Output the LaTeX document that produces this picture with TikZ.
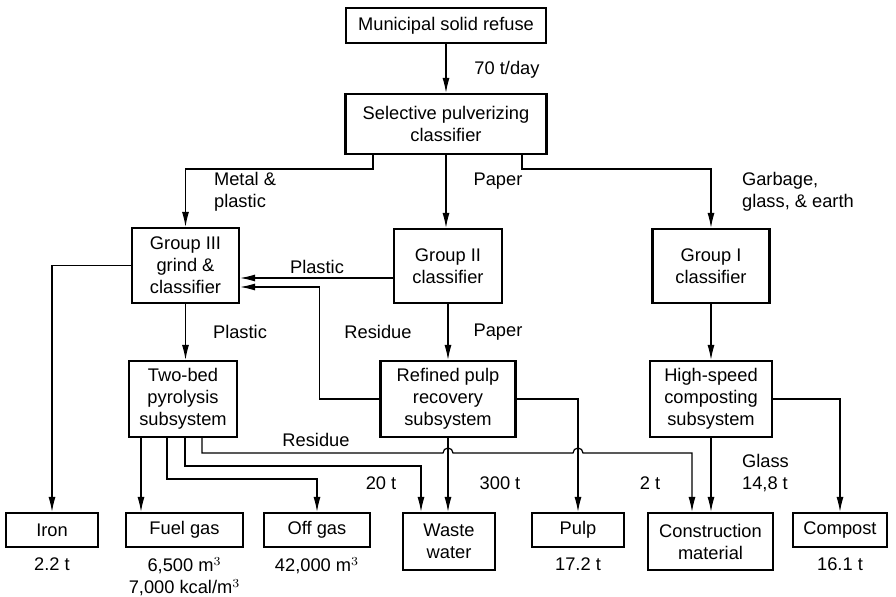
\documentclass[tikz,border=0pt]{standalone}
\usepackage{fontspec}
\setmainfont{Liberation Sans}
\usetikzlibrary{arrows.meta,positioning,calc}

\begin{document}
\begin{tikzpicture}
  %[auto,every node/.style={rectangle,draw,align=center},node distance=2cm]
  [x={(0.02cm,0)},y={(0,-0.02cm)},every node/.style={font=\fontsize{10.4}{12.5}\selectfont,align=center,inner sep=1pt}]
\tikzset{%
box/.style={rectangle,draw,line width=1.2pt,minimum height=0.68cm},
lbl/.style={draw=none},
arr/.style={-{Latex[length=3mm,width=1.4mm]},line width=0.7pt}
}
\useasboundingbox (0,0) rectangle (896,597);
  % process boxes
  \node[box,minimum width=4cm,minimum height=0.7cm] (msr) at (446,25.5) {Municipal solid refuse};
  \node[box,minimum width=4.02cm,minimum height=1.2cm] (spc) at (446,124) {Selective pulverizing\\classifier};
  \node[box,minimum width=2.14cm,minimum height=1.5cm] (g3) at (185.5,265.5) {Group III\\grind \&\\classifier};
  \node[box,minimum width=2.16cm,minimum height=1.48cm] (g2) at (448,266) {Group II\\classifier};
  \node[box,minimum width=2.34cm,minimum height=1.48cm] (g1) at (711,266) {Group I\\classifier};
  \node[box,minimum width=2.16cm,minimum height=1.52cm] (tb) at (183,399) {Two-bed\\pyrolysis\\subsystem};
  \node[box,minimum width=2.7cm,minimum height=1.52cm] (rpr) at (448,399) {Refined pulp\\recovery\\subsystem};
  \node[box,minimum width=2.44cm,minimum height=1.52cm] (hsc) at (711,399) {High-speed\\composting\\subsystem};
  % products
  \node[box,minimum width=1.84cm] (iron) at (52,530) {Iron};
  \node[box,minimum width=2.34cm] (fuel) at (184.5,530) {Fuel gas};
  \node[box,minimum width=2.12cm] (off) at (317,530) {Off gas};
  \node[box,minimum width=1.84cm,minimum height=1.14cm] (ww) at (449,541.5) {Waste\\water};
  \node[box,minimum width=1.84cm] (pulp) at (578,530) {Pulp};
  \node[box,minimum width=2.5cm,minimum height=1.14cm] (cm) at (710.5,541.5) {Construction\\material};
  \node[box,minimum width=1.88cm] (comp) at (840,530) {Compost};
  % flows
  \draw[arr] (msr) -- (spc);
  \draw[arr] (spc.south) ++(-73,0) -- ++(0,14) -| (g3.north);
  \draw[arr] (spc) -- (spc |- g2.north);
  \draw[arr] (spc.south) ++(76,0) -- ++(0,14) -| (g1.north);
  \draw[arr] (g2.west |- 0,278) -- (g3.east |- 0,278);
  \draw[arr] (rpr.west) -- ++(-60,0) |- (g3.east |- 0,287);
  \draw[arr] (g3.west) -| (iron.north);
  \draw[arr] (g3) -- (g3 |- tb.north);
  \draw[arr] (g2) -- (g2 |- rpr.north);
  \draw[arr] (g1) -- (g1 |- hsc.north);
  \draw[arr] (tb.south -| 141,0) -- (fuel.north -| 141,0);
  \draw[arr] (tb.south -| 167,0) -- ++(0,41) -| (off.north);
  \draw[arr] (tb.south -| 185,0) -- ++(0,28) -| (ww.north -| 421,0);
  \draw[arr] (tb.south -| 202,0) |- (443,453) arc (180:0:0.1cm) -- (573,453) arc (180:0:0.1cm) -- (692,453) -- (cm.north -| 692,0);
  \draw[arr] (rpr) -- (rpr |- ww.north);
  \draw[arr] (rpr.east) -| (pulp.north);
  \draw[arr] (hsc) -- (hsc |- cm.north);
  \draw[arr] (hsc.east) -| (comp.north);
  % flow labels
  \node[lbl] at (507,70) {70 t/day};
  \node[lbl,anchor=west,align=left] at (212,192) {Metal \&\\plastic};
  \node[lbl] at (498,181) {Paper};
  \node[lbl,anchor=west,align=left] at (740,192) {Garbage,\\glass, \& earth};
  \node[lbl] at (317,267) {Plastic};
  \node[lbl] at (240,332) {Plastic};
  \node[lbl] at (378,332) {Residue};
  \node[lbl] at (498,332) {Paper};
  \node[lbl] at (316,440) {Residue};
  \node[lbl] at (381,483) {20 t};
  \node[lbl] at (500,483) {300 t};
  \node[lbl] at (650,483) {2 t};
  \node[lbl,anchor=west,align=left] at (740,473) {Glass\\14,8 t};
  % quantities
  \node[lbl] at (iron.south) [below=1.5mm] {2.2 t};
  \node[lbl] at (fuel.south) [below=1.5mm] {6,500 m$^3$\\7,000 kcal/m$^3$};
  \node[lbl] at (off.south) [below=1.5mm] {42,000 m$^3$};
  \node[lbl] at (pulp.south) [below=1.5mm] {17.2 t};
  \node[lbl] at (comp.south) [below=1.5mm] {16.1 t};
\end{tikzpicture}
\end{document}
